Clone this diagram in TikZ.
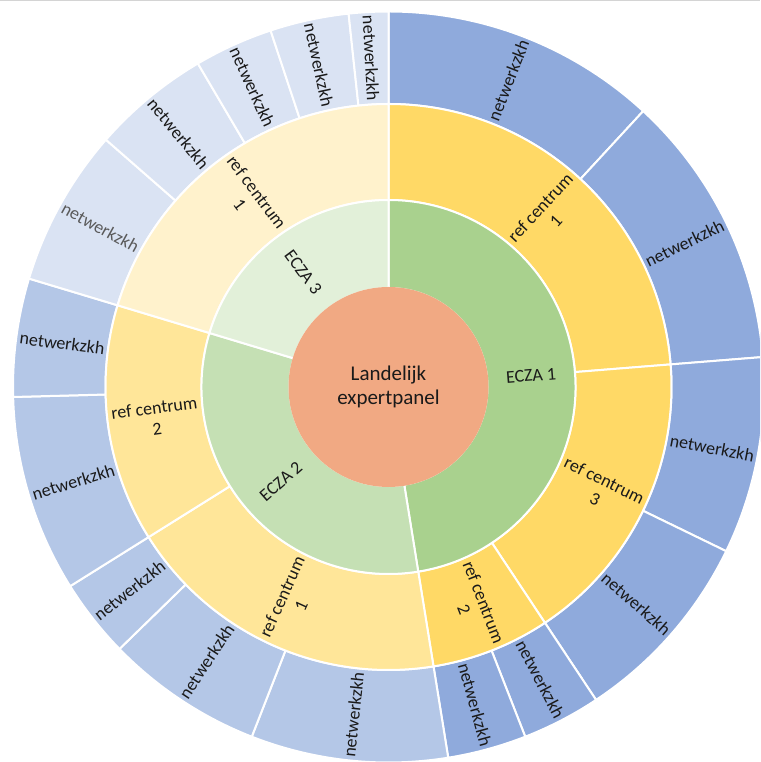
\documentclass[tikz,border=0pt]{standalone}
\usepackage{fontspec}
\setmainfont{Carlito}

\definecolor{hub}{HTML}{F1A983}
\definecolor{grA}{HTML}{A9D18E}
\definecolor{grB}{HTML}{C5E0B4}
\definecolor{grC}{HTML}{E2F0D9}
\definecolor{ylA}{HTML}{FFD966}
\definecolor{ylB}{HTML}{FFE699}
\definecolor{ylC}{HTML}{FFF2CC}
\definecolor{blA}{HTML}{8FAADC}
\definecolor{blB}{HTML}{B4C7E7}
\definecolor{blC}{HTML}{DAE3F3}
\definecolor{ink}{HTML}{1A1A1A}
\definecolor{inkgray}{HTML}{5A5A5A}
\definecolor{frame}{HTML}{D4D4D4}

% degrees per slot (59 slots round the full circle)
\pgfmathsetmacro\slotdeg{360/59}

% Sunburst segment: #1 node name, #2 inner radius, #3 outer radius,
% #4 first slot, #5 last slot (clockwise from the top),
% #6 fill, #7 text colour, #8 label
\newcommand\sunseg[8]{%
  \pgfmathsetmacro\angA{90-#4*\slotdeg}%
  \pgfmathsetmacro\angB{90-#5*\slotdeg}%
  \pgfmathsetmacro\angM{(\angA+\angB)/2}%
  \pgfmathsetmacro\angR{ifthenelse(\angM<-90,\angM+180,\angM)}%
  \pgfmathsetmacro\radM{(#2+#3)/2}%
  \filldraw[seg, fill=#6] (\angA:#2pt) arc[start angle=\angA, end angle=\angB, radius=#2pt]
    -- (\angB:#3pt) arc[start angle=\angB, end angle=\angA, radius=#3pt] -- cycle;
  \node[lbl, text=#7, rotate=\angR] (#1) at (\angM:\radM pt) {#8};
}

\begin{document}
\begin{tikzpicture}[x=1pt,y=1pt,
  seg/.style={draw=white, line width=2pt, line join=round},
  lbl/.style={font=\fontsize{18}{21}\selectfont, align=center, inner sep=0pt},
  hublbl/.style={font=\fontsize{21}{24}\selectfont, text=ink, align=center, inner sep=0pt}]
\useasboundingbox (0,0) rectangle (760,762);
\clip (0,0) rectangle (760,762);
\draw[frame, line width=1.5pt] (0,761.3) -- (760,761.3);

\begin{scope}[shift={(388.5,375)}]
  % outer ring: netwerkzkh
  \sunseg{n1}{283}{375.5}{0}{7}{blA}{ink}{netwerkzkh}
  \sunseg{n2}{283}{375.5}{7}{14}{blA}{ink}{netwerkzkh}
  \sunseg{n3}{283}{375.5}{14}{19}{blA}{ink}{netwerkzkh}
  \sunseg{n4}{283}{375.5}{19}{24}{blA}{ink}{netwerkzkh}
  \sunseg{n5}{283}{375.5}{24}{26}{blA}{ink}{netwerkzkh}
  \sunseg{n6}{283}{375.5}{26}{28}{blA}{ink}{netwerkzkh}
  \sunseg{n7}{283}{375.5}{28}{33}{blB}{ink}{netwerkzkh}
  \sunseg{n8}{283}{375.5}{33}{37}{blB}{ink}{netwerkzkh}
  \sunseg{n9}{283}{375.5}{37}{39}{blB}{ink}{netwerkzkh}
  \sunseg{n10}{283}{375.5}{39}{44}{blB}{ink}{netwerkzkh}
  \sunseg{n11}{283}{375.5}{44}{47}{blB}{ink}{netwerkzkh}
  \sunseg{n12}{283}{375.5}{47}{51}{blC}{inkgray}{netwerkzkh}
  \sunseg{n13}{283}{375.5}{51}{54}{blC}{ink}{netwerkzkh}
  \sunseg{n14}{283}{375.5}{54}{56}{blC}{ink}{netwerkzkh}
  \sunseg{n15}{283}{375.5}{56}{58}{blC}{ink}{netwerkzkh}
  \sunseg{n16}{283}{375.5}{58}{59}{blC}{ink}{netwerkzkh}

  % middle ring: ref centrum
  \sunseg{r11}{187}{283}{0}{14}{ylA}{ink}{ref centrum\\1}
  \sunseg{r13}{187}{283}{14}{24}{ylA}{ink}{ref centrum\\3}
  \sunseg{r12}{187}{283}{24}{28}{ylA}{ink}{ref centrum\\2}
  \sunseg{r21}{187}{283}{28}{39}{ylB}{ink}{ref centrum\\1}
  \sunseg{r22}{187}{283}{39}{47}{ylB}{ink}{ref centrum\\2}
  \sunseg{r31}{187}{283}{47}{59}{ylC}{ink}{ref centrum\\1}

  % inner ring: ECZA
  \sunseg{e1}{99}{187}{0}{28}{grA}{ink}{ECZA 1}
  \sunseg{e2}{99}{187}{28}{47}{grB}{ink}{ECZA 2}
  \sunseg{e3}{99}{187}{47}{59}{grC}{ink}{ECZA 3}

  % hub, laid over the inner edge of the ECZA ring
  \fill[hub] (0,0) circle[radius=100pt];
  \node[hublbl] (hubtext) at (0,0) {Landelijk\\expertpanel};
\end{scope}
\end{tikzpicture}
\end{document}
